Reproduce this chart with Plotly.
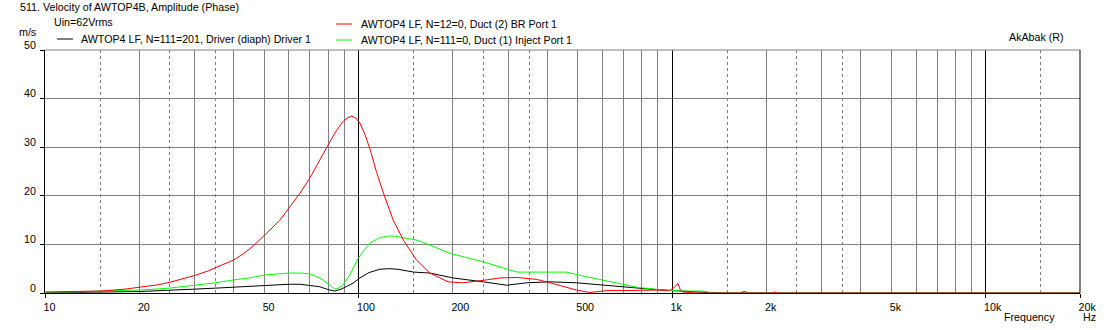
import math
import plotly.graph_objects as go

# ---- series data (frequency in Hz, velocity in m/s) ----
freq_driver = [10, 12, 15, 20, 25, 30, 35, 40, 45, 50, 55, 60, 65, 70, 75, 81, 84, 88, 91, 96,
               101, 108, 117, 125, 133, 150, 169, 200, 250, 297, 344, 408, 496, 600, 700,
               850, 1000, 1230, 1420, 2000, 5000, 20000]
vel_driver = [0.1, 0.1, 0.2, 0.3, 0.5, 0.8, 1.0, 1.2, 1.4, 1.6, 1.7, 1.8, 1.8, 1.6, 1.3, 0.6, 0.4,
              0.8, 1.2, 2.0, 3.1, 4.2, 4.9, 5.0, 4.9, 4.3, 4.1, 3.1, 2.3, 1.6, 2.1, 2.3, 2.1,
              1.6, 1.2, 0.8, 0.5, 0.2, 0.0, 0.0, 0.0, 0.0]

freq_br = [10, 12, 13, 15, 18, 20, 23, 25, 28, 30, 33, 35, 38, 40, 43, 46, 50, 52, 56, 60, 65,
           70, 75, 81, 85, 89, 92, 95, 98, 101, 105, 109, 114, 120, 129, 139, 153, 169, 193,
           215, 250, 283, 320, 370, 408, 450, 496, 547, 620, 700, 807, 900, 982, 1020, 1043,
           1060, 1080, 1200, 1650, 1700, 1750, 2080, 2130, 2180, 5000, 20000]
vel_br = [0.2, 0.25, 0.3, 0.4, 0.8, 1.2, 1.7, 2.2, 3.0, 3.6, 4.5, 5.2, 6.1, 6.8, 8.1, 9.6,
          11.8, 12.8, 14.9, 17.5, 20.5, 23.7, 27.3, 31.1, 33.4, 35.2, 36.0, 36.4, 36.0, 35.0,
          32.5, 29.4, 25.0, 20.6, 15.0, 10.9, 6.8, 4.1, 2.3, 2.1, 2.6, 3.1, 3.2, 2.8, 2.1,
          1.4, 0.6, 0.1, 0.5, 0.5, 0.6, 0.6, 0.5, 1.2, 2.0, 0.8, 0.2, 0.0, 0.0, 0.3, 0.0,
          0.0, 0.2, 0.0, 0.0, 0.0]

freq_inject = [10, 12.3, 15, 20, 25, 30, 35, 40, 45, 50, 55, 60, 66, 70, 74, 77, 81, 84, 86,
               89, 94, 99, 104, 109, 116, 123, 130, 136, 153, 170, 195, 250, 283, 320, 400,
               460, 520, 633, 770, 935, 1080, 1260, 1340, 1650, 1700, 1750, 5000, 20000]
vel_inject = [0.1, 0.2, 0.4, 0.6, 1.0, 1.6, 2.1, 2.7, 3.1, 3.7, 3.9, 4.1, 4.1, 3.9, 3.3, 2.7,
              1.6, 0.8, 1.0, 1.6, 3.8, 6.8, 8.8, 10.3, 11.3, 11.7, 11.7, 11.5, 10.9, 9.8,
              8.2, 6.4, 5.3, 4.3, 4.3, 4.3, 3.5, 2.3, 1.2, 0.6, 0.4, 0.4, 0.0, 0.0, 0.3, 0.0,
              0.0, 0.0]

# ---- axis ticks ----
x_label_vals = [10, 20, 50, 100, 200, 500, 1000, 2000, 5000, 10000, 20000]
x_label_text = ["10", "20", "50", "100", "200", "500", "1k", "2k", "5k", "10k", "20k"]
x_decades = [10, 100, 1000, 10000, 20000]
x_solid_grid = [m * d for d in (10, 100, 1000) for m in range(2, 10)] + [20000]
x_dashed_grid = [m * d for d in (10, 100, 1000, 10000) for m in (1.5, 2.5, 3.5)]
x_dashed_grid = [v for v in x_dashed_grid if v <= 20000]
y_vals = [0, 10, 20, 30, 40, 50]

series_names = [
    "AWTOP4 LF, N=111=201, Driver (diaph) Driver 1",
    "AWTOP4 LF, N=12=0, Duct (2) BR Port 1",
    "AWTOP4 LF, N=111=0, Duct (1) Inject Port 1",
]
colors = ["#000000", "#ff0000", "#00ff00"]

W, H = 1108, 330
ML, MR, MT, MB = 45, 28, 50, 37
PW, PH = W - ML - MR, H - MT - MB
FONT = "Liberation Sans, Arial, sans-serif"
FS = 10.7
GRAY = "#808080"


def px(x):
    return (x - ML) / PW


def py(y):
    return (H - MB - y) / PH


fig = go.Figure()

fig.add_trace(go.Scatter(x=freq_driver, y=vel_driver, mode="lines", name=series_names[0],
                         line=dict(color=colors[0], width=1)))
fig.add_trace(go.Scatter(x=freq_inject, y=vel_inject, mode="lines", name=series_names[2],
                         line=dict(color=colors[2], width=1)))
fig.add_trace(go.Scatter(x=freq_br, y=vel_br, mode="lines", name=series_names[1],
                         line=dict(color=colors[1], width=1)))

# helper traces that carry the extra grid axes
fig.add_trace(go.Scatter(x=[10, 20000], y=[None, None], xaxis="x2", showlegend=False,
                         hoverinfo="skip"))
fig.add_trace(go.Scatter(x=[10, 20000], y=[None, None], xaxis="x3", showlegend=False,
                         hoverinfo="skip"))

xr = [1, math.log10(20000)]

fig.update_layout(
    width=W, height=H,
    margin=dict(l=ML, r=MR, t=MT, b=MB, pad=0),
    paper_bgcolor="white", plot_bgcolor="white",
    showlegend=False,
    font=dict(family=FONT, size=FS, color="black"),
    xaxis=dict(
        type="log", range=xr, fixedrange=True,
        tickmode="array", tickvals=x_label_vals, ticktext=x_label_text,
        ticklabelposition="outside right", ticks="", showgrid=False,
        ticklabelstandoff=4, ticklabelshift=-2,
        showline=True, linecolor="black", linewidth=1, zeroline=False,
        tickfont=dict(family=FONT, size=FS, color="black"),
        minor=dict(tickmode="array", tickvals=x_solid_grid, showgrid=True,
                   gridcolor=GRAY, gridwidth=1, ticks=""),
    ),
    xaxis2=dict(
        type="log", range=xr, overlaying="x", anchor="y", fixedrange=True,
        tickmode="array", tickvals=x_dashed_grid, showticklabels=False, ticks="",
        showgrid=True, gridcolor=GRAY, gridwidth=1, griddash="3px,3px",
        showline=False, zeroline=False,
    ),
    xaxis3=dict(
        type="log", range=xr, overlaying="x", anchor="y", fixedrange=True,
        tickmode="array", tickvals=x_decades, showticklabels=False,
        ticks="outside", ticklen=4, tickcolor="black", tickwidth=1,
        showgrid=True, gridcolor="black", gridwidth=1,
        showline=False, zeroline=False,
    ),
    yaxis=dict(
        range=[0, 50], fixedrange=True,
        tickmode="array", tickvals=y_vals,
        ticks="outside", ticklen=4, tickcolor="black",
        showgrid=True, gridcolor=GRAY, gridwidth=1,
        showline=True, linecolor="black", linewidth=1, zeroline=False,
        ticklabelshift=-5, ticklabelstandoff=2,
        tickfont=dict(family=FONT, size=FS, color="black"),
    ),
)

shapes = [
    # top border (gray) and right border (black)
    dict(type="line", xref="paper", yref="paper", x0=0, x1=1, y0=1, y1=1,
         line=dict(color=GRAY, width=1)),
    dict(type="line", xref="paper", yref="paper", x0=1, x1=1, y0=0, y1=1,
         line=dict(color="black", width=1)),
    # legend line samples
    dict(type="line", xref="paper", yref="paper", x0=px(57), x1=px(73), y0=py(39), y1=py(39),
         line=dict(color=colors[0], width=1)),
    dict(type="line", xref="paper", yref="paper", x0=px(336), x1=px(352), y0=py(24), y1=py(24),
         line=dict(color=colors[1], width=1)),
    dict(type="line", xref="paper", yref="paper", x0=px(336), x1=px(352), y0=py(40), y1=py(40),
         line=dict(color=colors[2], width=1)),
]
fig.update_layout(shapes=shapes)

texts = [
    ("511. Velocity of AWTOP4B, Amplitude (Phase)", 19, 7),
    ("Uin=62Vrms", 53, 22),
    ("m/s", 18, 32),
    (series_names[0], 80, 39),
    (series_names[1], 360, 24),
    (series_names[2], 360, 40),
    ("AkAbak (R)", 1008, 37),
    ("Frequency", 1003, 317),
    ("Hz", 1082, 317),
]
for txt, x, y in texts:
    fig.add_annotation(text=txt, xref="paper", yref="paper", x=px(x), y=py(y),
                       xanchor="left", yanchor="middle", showarrow=False,
                       font=dict(family=FONT, size=FS, color="black"), borderpad=0)

fig.write_html("out.html")
